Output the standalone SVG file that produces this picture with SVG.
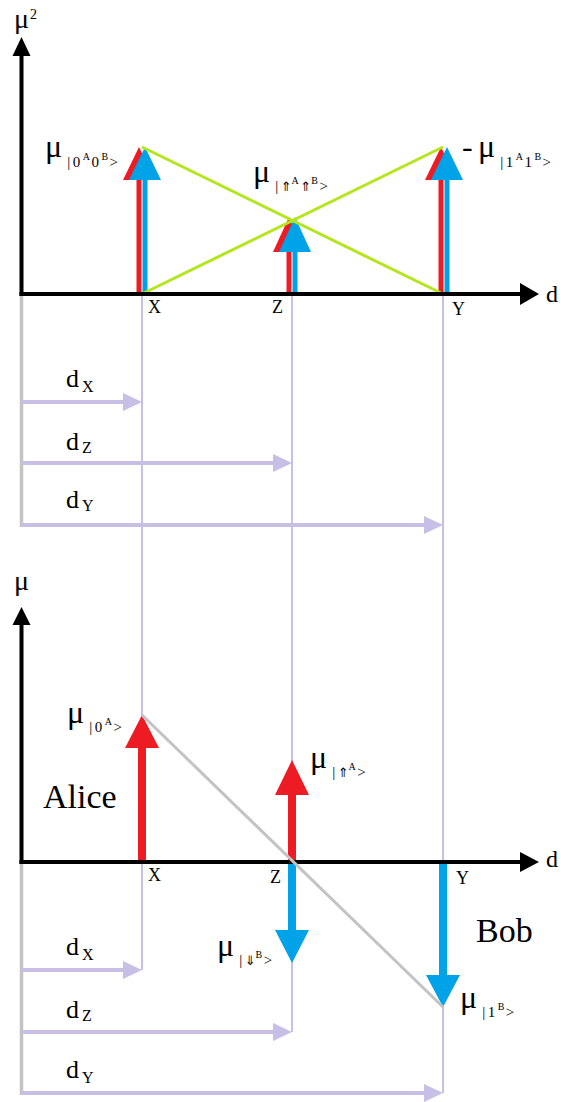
<svg xmlns="http://www.w3.org/2000/svg" width="561" height="1102" viewBox="0 0 561 1102">
<style>
.t{font-family:"Liberation Serif","Times New Roman",serif;fill:#000}
.mu{font-size:32px}
.sb{font-size:15px;letter-spacing:2.5px}
.sp{font-size:10px;letter-spacing:1.5px}
.ar{font-family:"DejaVu Sans",sans-serif;font-size:13px;letter-spacing:0}
.tick{font-size:18px}
.dl{font-size:26px}
.ds{font-size:16px}
.big{font-size:34px}
.guide{stroke:#c8bfe7;stroke-width:2;fill:none}
.dline{stroke:#c8bfe7;stroke-width:4;fill:none}
.dhead{fill:#c8bfe7}
.gray{stroke:#c3c3c3;stroke-width:3.5;fill:none}
.diag{stroke:#c3c3c3;stroke-width:3;fill:none}
.axis{stroke:#000;stroke-width:4;fill:none}
.red{fill:#ed1c24}
.blue{fill:#00a2e8}
.green{stroke:#b5e61d;stroke-width:3;fill:none}
</style>
<rect width="561" height="1102" fill="#fff"/>
<g id="guides">
<line class="guide" x1="142" y1="296" x2="142" y2="970"/>
<line class="guide" x1="292" y1="296" x2="292" y2="1032"/>
<line class="guide" x1="443" y1="296" x2="443" y2="1093"/>
<line class="gray" x1="21.5" y1="296" x2="21.5" y2="527"/>
<line class="gray" x1="21.5" y1="862" x2="21.5" y2="1095"/>
</g>
<g id="connectors">
<line class="dline" x1="21.5" y1="402" x2="125" y2="402"/><polygon class="dhead" points="142,402 123,393 123,411"/>
<line class="dline" x1="21.5" y1="463" x2="275" y2="463"/><polygon class="dhead" points="292,463 273,454 273,472"/>
<line class="dline" x1="21.5" y1="525" x2="426" y2="525"/><polygon class="dhead" points="443,525 424,516 424,534"/>
<line class="dline" x1="21.5" y1="970" x2="125" y2="970"/><polygon class="dhead" points="142,970 123,961 123,979"/>
<line class="dline" x1="21.5" y1="1032" x2="275" y2="1032"/><polygon class="dhead" points="292,1032 273,1023 273,1041"/>
<line class="dline" x1="21.5" y1="1093" x2="426" y2="1093"/><polygon class="dhead" points="443,1093 424,1084 424,1102"/>
</g>
<g id="top-arrows">
<polygon class="red" points="136.5,294 136.5,180 123,180 139,147 155,180 141.5,180 141.5,294"/>
<polygon class="blue" points="142.5,294 142.5,180 129,180 145,147 161,180 147.5,180 147.5,294"/>
<polygon class="red" points="286.5,294 286.5,252 273,252 289,217 305,252 291.5,252 291.5,294"/>
<polygon class="blue" points="292.5,294 292.5,252 279,252 295,217 311,252 297.5,252 297.5,294"/>
<polygon class="red" points="438.5,294 438.5,180 425,180 441,147 457,180 443.5,180 443.5,294"/>
<polygon class="blue" points="444.5,294 444.5,180 431,180 447,147 463,180 449.5,180 449.5,294"/>
</g>
<g id="green-lines">
<line class="green" x1="142" y1="147" x2="443" y2="294"/>
<line class="green" x1="142" y1="294" x2="443" y2="147"/>
</g>
<g id="bottom-arrows">
<polygon class="red" points="138,862 138,748 125,748 142,715 159,748 146,748 146,862"/>
<polygon class="red" points="288,862 288,795 275,795 292,760 309,795 296,795 296,862"/>
<polygon class="blue" points="288,862 288,930 275,930 292,963 309,930 296,930 296,862"/>
<polygon class="blue" points="439,862 439,975 426,975 443,1007 460,975 447,975 447,862"/>
</g>
<g id="axes">
<line class="axis" x1="21.5" y1="296" x2="21.5" y2="54"/>
<polygon points="21.5,37 12.5,56 30.5,56" fill="#000"/>
<line class="axis" x1="19.5" y1="294" x2="522" y2="294"/>
<polygon points="539,294 520,283 520,305" fill="#000"/>
<line class="axis" x1="21.5" y1="864" x2="21.5" y2="621"/>
<polygon points="21.5,607 12.5,625 30.5,625" fill="#000"/>
<line class="axis" x1="19.5" y1="862" x2="522" y2="862"/>
<polygon points="539,862 520,852 520,872" fill="#000"/>
</g>
<line id="diagonal" class="diag" x1="142" y1="715" x2="443" y2="1007"/>
<g id="axis-labels">
<text class="t" x="14" y="28" font-size="28">μ<tspan font-size="14" dy="-9" dx="1">2</tspan></text>
<text class="t" x="546" y="302" font-size="24">d</text>
<text class="t" x="14" y="590" font-size="28">μ</text>
<text class="t" x="546" y="867" font-size="24">d</text>
<text class="t tick" x="148" y="313">X</text>
<text class="t tick" x="272" y="313">Z</text>
<text class="t tick" x="452" y="315">Y</text>
<text class="t tick" x="148" y="881">X</text>
<text class="t tick" x="270" y="883">Z</text>
<text class="t tick" x="456" y="884">Y</text>
</g>
<g id="distance-labels">
<text class="t" x="66" y="387"><tspan class="dl">d</tspan><tspan class="ds" dy="5" dx="3">X</tspan></text>
<text class="t" x="66" y="450"><tspan class="dl">d</tspan><tspan class="ds" dy="3" dx="3">Z</tspan></text>
<text class="t" x="66" y="508"><tspan class="dl">d</tspan><tspan class="ds" dy="3" dx="3">Y</tspan></text>
<text class="t" x="66" y="955"><tspan class="dl">d</tspan><tspan class="ds" dy="5" dx="3">X</tspan></text>
<text class="t" x="66" y="1018"><tspan class="dl">d</tspan><tspan class="ds" dy="3" dx="3">Z</tspan></text>
<text class="t" x="66" y="1078"><tspan class="dl">d</tspan><tspan class="ds" dy="5" dx="3">Y</tspan></text>
</g>
<g id="state-labels">
<text class="t" x="45" y="157"><tspan class="mu">μ</tspan><tspan class="sb" dy="10" dx="5">|0</tspan><tspan class="sp" dy="-7">A</tspan><tspan class="sb" dy="7">0</tspan><tspan class="sp" dy="-7">B</tspan><tspan class="sb" dy="7">&gt;</tspan></text>
<text class="t" x="253" y="182"><tspan class="mu">μ</tspan><tspan class="sb" dy="9" dx="5">|</tspan><tspan class="ar">⇑</tspan><tspan class="sp" dy="-7">A</tspan><tspan class="ar" dy="7">⇑</tspan><tspan class="sp" dy="-7">B</tspan><tspan class="sb" dy="7">&gt;</tspan></text>
<text class="t" x="462" y="157"><tspan class="mu">-</tspan><tspan class="mu" x="478">μ</tspan><tspan class="sb" dy="10" dx="5">|1</tspan><tspan class="sp" dy="-7">A</tspan><tspan class="sb" dy="7">1</tspan><tspan class="sp" dy="-7">B</tspan><tspan class="sb" dy="7">&gt;</tspan></text>
<text class="t" x="67" y="723"><tspan class="mu">μ</tspan><tspan class="sb" dy="9" dx="5">|0</tspan><tspan class="sp" dy="-7">A</tspan><tspan class="sb" dy="7">&gt;</tspan></text>
<text class="t" x="310" y="768"><tspan class="mu">μ</tspan><tspan class="sb" dy="9" dx="5">|</tspan><tspan class="ar">⇑</tspan><tspan class="sp" dy="-7">A</tspan><tspan class="sb" dy="7">&gt;</tspan></text>
<text class="t" x="217" y="956"><tspan class="mu">μ</tspan><tspan class="sb" dy="9" dx="5">|</tspan><tspan class="ar">⇓</tspan><tspan class="sp" dy="-7">B</tspan><tspan class="sb" dy="7">&gt;</tspan></text>
<text class="t" x="460" y="1008"><tspan class="mu">μ</tspan><tspan class="sb" dy="9" dx="5">|1</tspan><tspan class="sp" dy="-7">B</tspan><tspan class="sb" dy="7">&gt;</tspan></text>
<text class="t big" x="43" y="808">Alice</text>
<text class="t big" x="476" y="942">Bob</text>
</g>
</svg>
